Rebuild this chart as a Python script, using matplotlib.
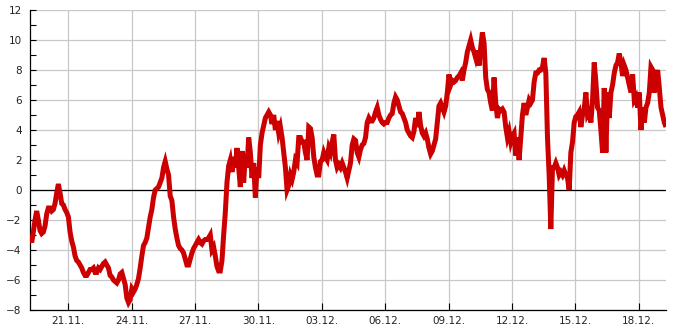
#!/usr/bin/python3

"""
    Temperature curve, 19.11. - 19.12.
"""
import numpy as np
import pandas as pd
import matplotlib
matplotlib.use("Agg")
import matplotlib.pyplot as plt
import matplotlib.dates as mdates
from matplotlib.ticker import MultipleLocator

# time span of the recording
t_start = "2023-11-19 04:30"
t_end = "2023-12-19 07:00"

# readings, 19.11. - 28.11.
temp_a = [-3.0, -3.5, -2.8, -2.0, -1.4, -2.0, -2.7, -2.9, -2.8, -2.4,
          -1.6, -1.2, -1.2, -1.4, -1.3, -0.9, -0.2, 0.4, -0.2, -0.9,
          -1.0, -1.3, -1.5, -1.8, -2.8, -3.4, -3.8, -4.4, -4.7, -4.8,
          -5.0, -5.2, -5.5, -5.7, -5.7, -5.5, -5.3, -5.3, -5.2, -5.5,
          -5.5, -5.2, -5.3, -5.1, -4.9, -4.8, -5.0, -5.2, -5.7, -5.8,
          -6.0, -6.1, -6.2, -6.0, -5.6, -5.5, -5.9, -6.3, -7.2, -7.5,
          -7.3, -6.6, -6.8, -6.6, -6.3, -5.9, -5.2, -4.4, -3.7, -3.5,
          -3.2, -2.5, -1.8, -1.3, -0.5, 0.0, 0.1, 0.2, 0.5, 0.8,
          1.5, 1.9, 1.4, 1.0, -0.4, -0.7, -1.8, -2.6, -3.2, -3.7,
          -3.9, -4.0, -4.2, -4.6, -5.0, -5.0, -4.6, -4.2, -3.9, -3.7,
          -3.5, -3.3, -3.5, -3.6, -3.4, -3.3, -3.3, -3.2, -3.0, -4.0,
          -3.8, -4.4, -5.1, -5.4, -5.4, -4.7, -3.0, -1.5, 0.5, 1.6,
          2.0, 1.2, 2.2, 1.5, 2.8, 1.5, 0.2, 2.6, 0.5, 2.4,
          1.5, 3.5]

# readings, 29.11. - 09.12.
temp_b = [2.5, 0.8, 1.8, -0.5, 1.5, 0.8, 3.0, 3.8, 4.3, 4.8,
          5.0, 5.2, 5.0, 4.4, 5.0, 4.0, 4.6, 3.8, 4.2, 3.5,
          2.5, 1.5, 0.0, 0.3, 1.0, 0.7, 1.2, 2.0, 1.8, 3.5,
          3.5, 3.2, 3.2, 2.5, 2.0, 4.2, 4.1, 3.5, 2.2, 1.5,
          1.0, 1.0, 1.9, 2.0, 2.5, 2.2, 2.0, 2.8, 2.5, 3.2,
          3.7, 2.0, 1.5, 1.7, 1.5, 1.8, 1.5, 1.2, 0.8, 1.3,
          1.8, 3.0, 3.4, 3.3, 2.5, 2.2, 2.7, 3.0, 3.1, 3.5,
          4.5, 4.8, 4.6, 4.6, 4.8, 5.2, 5.5, 5.0, 4.7, 4.5,
          4.4, 4.5, 4.5, 4.8, 5.0, 5.1, 5.8, 6.2, 6.0, 5.6,
          5.2, 5.1, 4.8, 4.5, 4.0, 3.8, 3.6, 3.5, 3.9, 4.8,
          4.2, 5.2, 4.3, 3.8, 3.6, 3.8, 3.4, 2.8, 2.4, 2.6,
          3.0, 3.4, 4.5, 5.6, 5.8, 5.5, 5.2, 5.6, 6.5, 7.7]

# readings, 09.12. - 19.12.
temp_c = [7.0, 7.3, 7.2, 7.3, 7.5, 7.6, 7.8, 7.3, 8.0, 8.5,
          9.2, 9.6, 10.0, 9.5, 9.2, 8.8, 9.3, 8.3, 9.5, 10.5,
          9.8, 7.5, 6.7, 6.5, 5.8, 5.3, 7.5, 5.8, 4.8, 5.4,
          5.3, 5.4, 5.2, 4.2, 3.5, 3.9, 3.2, 3.6, 3.8, 2.3,
          3.5, 2.0, 3.5, 5.0, 5.8, 5.0, 5.5, 6.0, 5.8, 6.0,
          7.2, 7.8, 7.8, 8.0, 8.0, 8.2, 8.8, 7.8, 3.5, 1.0,
          -2.6, 1.5, 1.5, 1.8, 1.5, 1.0, 1.2, 1.0, 1.3, 1.0,
          0.8, 0.0, 2.5, 3.2, 4.5, 4.9, 5.0, 5.2, 4.2, 5.0,
          5.4, 6.5, 5.0, 5.2, 4.5, 6.0, 8.5, 7.2, 5.5, 5.3,
          4.0, 2.5, 6.8, 2.5, 6.5, 4.8, 6.5, 7.0, 7.8, 8.3,
          8.5, 9.1, 8.5, 7.6, 8.3, 8.0, 7.5, 7.0, 6.5, 7.7,
          6.0, 6.2, 5.5, 6.5, 4.0, 5.5, 4.5, 5.5, 5.8, 6.5,
          8.2, 8.0, 6.5, 7.5, 8.0, 6.8, 5.5, 5.0, 4.5, 4.2]

# date ticks
tick_days = pd.date_range("2023-11-21", periods=10, freq="3D")


temps = np.array(temp_a + temp_b + temp_c)
times = pd.date_range(t_start, t_end, periods=len(temps))

fig = plt.figure(figsize=(6.85, 3.3), dpi=100)
ax = fig.add_axes([30 / 685, 20 / 330, 636 / 685, 300 / 330])

ax.plot(times, temps, color="#cc0000", linewidth=3.6, solid_joinstyle="miter",
        solid_capstyle="butt", zorder=3)
ax.axhline(0, color="black", linewidth=0.9, zorder=2)

ax.set_xlim(times[0], times[-1])
ax.set_ylim(-8, 12)

ax.yaxis.set_major_locator(MultipleLocator(2))
ax.yaxis.set_minor_locator(MultipleLocator(1))
ax.set_xticks(tick_days)
ax.xaxis.set_major_formatter(mdates.DateFormatter("%d.%m."))

ax.grid(True, which="major", color="#c8c8c8", linewidth=0.9, zorder=0)
ax.set_axisbelow(True)

for s in ["top", "right"]:
    ax.spines[s].set_visible(False)
for s in ["left", "bottom"]:
    ax.spines[s].set_color("black")
    ax.spines[s].set_linewidth(0.9)

ax.tick_params(axis="y", which="both", direction="in", length=4, width=0.8,
               labelsize=7.5, pad=6, colors="black", labelcolor="#222222")
ax.tick_params(axis="x", direction="in", length=5, width=0.8,
               labelsize=7.5, pad=4, colors="black", labelcolor="#222222")

fig.savefig("out.png", dpi=100)
